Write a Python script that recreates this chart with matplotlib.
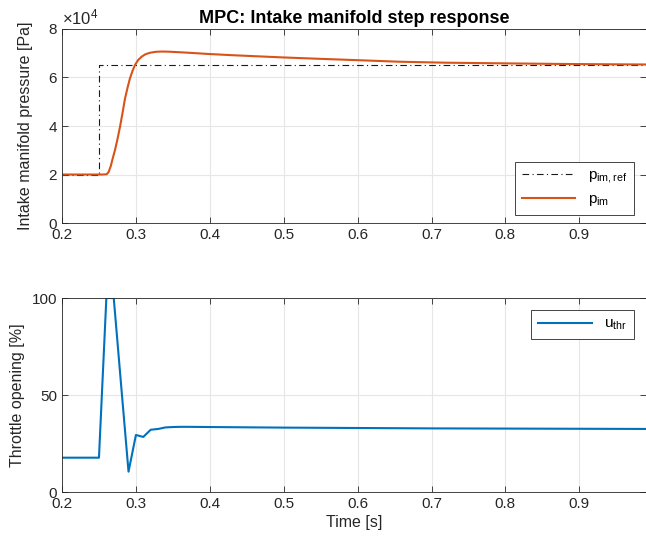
import matplotlib
matplotlib.use("Agg")
import matplotlib.pyplot as plt

plt.rcParams['font.family'] = ['Liberation Sans', 'DejaVu Sans']
plt.rcParams['mathtext.fontset'] = 'custom'
plt.rcParams['mathtext.rm'] = 'Liberation Sans'
plt.rcParams['mathtext.it'] = 'Liberation Sans'

# Reference step
t_ref = [0.2, 0.25, 0.25, 1.0]
p_ref = [20000, 20000, 65000, 65000]

# Intake manifold pressure
t_pim = [0.2, 0.255, 0.2605, 0.263, 0.266, 0.2685, 0.2717, 0.275, 0.2785, 0.282, 0.2853, 0.289,
         0.292, 0.2955, 0.2988, 0.303, 0.3078, 0.313, 0.319, 0.327, 0.335, 0.344, 0.36, 0.38,
         0.398, 0.43, 0.46, 0.497, 0.54, 0.595, 0.657, 0.72, 0.793, 0.87, 0.94, 1.0]
p_im = [20000, 20000, 20100, 21000, 23500, 26500, 30100, 34500, 39700, 45600, 51400, 56200,
        59700, 62800, 65200, 67200, 68600, 69600, 70200, 70600, 70700, 70650, 70400, 70050,
        69700, 69200, 68800, 68300, 67800, 67200, 66500, 66100, 65850, 65600, 65450, 65350]

# Throttle opening
t_thr = [0.2, 0.25, 0.26, 0.27, 0.28, 0.29, 0.30, 0.31, 0.32, 0.33, 0.34, 0.35, 0.36, 0.37,
         0.40, 0.5, 0.6, 0.7, 0.8, 0.9, 1.0]
u_thr = [17.7, 17.7, 100, 100, 55, 10.5, 29.4, 28.4, 32.1, 32.5, 33.3, 33.5, 33.6, 33.6,
         33.5, 33.2, 33.0, 32.8, 32.7, 32.6, 32.5]

orange = '#D95319'
blue = '#0072BD'
axc = '#262626'

fig = plt.figure(figsize=(6.46, 5.45), dpi=100)
ax1 = fig.add_axes([0.096, 0.5908, 0.904, 0.356])
ax2 = fig.add_axes([0.096, 0.0972, 0.904, 0.356])

xmax = 0.2 + 584 / 739.0

for ax in (ax1, ax2):
    ax.set_xlim(0.2, xmax)
    ax.set_xticks([0.2, 0.3, 0.4, 0.5, 0.6, 0.7, 0.8, 0.9])
    ax.set_xticklabels(['0.2', '0.3', '0.4', '0.5', '0.6', '0.7', '0.8', '0.9'])
    ax.grid(True, color='#E6E6E6', linewidth=0.8)
    ax.set_axisbelow(True)
    ax.tick_params(direction='in', top=True, right=True, length=4, width=0.6,
                   colors=axc, labelsize=11)
    for s in ax.spines.values():
        s.set_color(axc)
        s.set_linewidth(0.6)

ax1.plot(t_ref, p_ref, color='#1a1a1a', linestyle=(0, (6, 3, 1, 3)), linewidth=0.8,
         label=r'p$_{\mathrm{im,ref}}$')
ax1.plot(t_pim, p_im, color=orange, linewidth=1.5, label=r'p$_{\mathrm{im}}$')
ax1.set_ylim(0, 80000)
ax1.set_yticks([0, 20000, 40000, 60000, 80000])
ax1.set_yticklabels(['0', '2', '4', '6', '8'])
ax1.text(0.0, 1.01, r'$\times$10$^{4}$', transform=ax1.transAxes, fontsize=12,
         color=axc, ha='left', va='bottom')
ax1.set_ylabel('Intake manifold pressure [Pa]', fontsize=11.5, color=axc, labelpad=11)
ax1.set_title('MPC: Intake manifold step response', fontsize=13, fontweight='bold',
              color='k', pad=4, x=0.5)
leg1 = ax1.legend(loc='lower right', bbox_to_anchor=(0.979, 0.041), borderaxespad=0,
                  fontsize=11, fancybox=False, edgecolor=axc, framealpha=1,
                  handlelength=3.5, borderpad=0.45, labelspacing=0.45)
leg1.get_frame().set_linewidth(0.6)

ax2.plot(t_thr, u_thr, color=blue, linewidth=1.5, label=r'u$_{\mathrm{thr}}$')
ax2.set_ylim(0, 100)
ax2.set_yticks([0, 50, 100])
ax2.set_ylabel('Throttle opening [%]', fontsize=11.5, color=axc, labelpad=5)
ax2.set_xlabel('Time [s]', fontsize=11.5, color=axc, labelpad=3)
leg2 = ax2.legend(loc='upper right', bbox_to_anchor=(0.979, 0.938), borderaxespad=0,
                  fontsize=11, fancybox=False, edgecolor=axc, framealpha=1,
                  handlelength=3.5, borderpad=0.45)
leg2.get_frame().set_linewidth(0.6)

fig.savefig('out.png', dpi=100)
